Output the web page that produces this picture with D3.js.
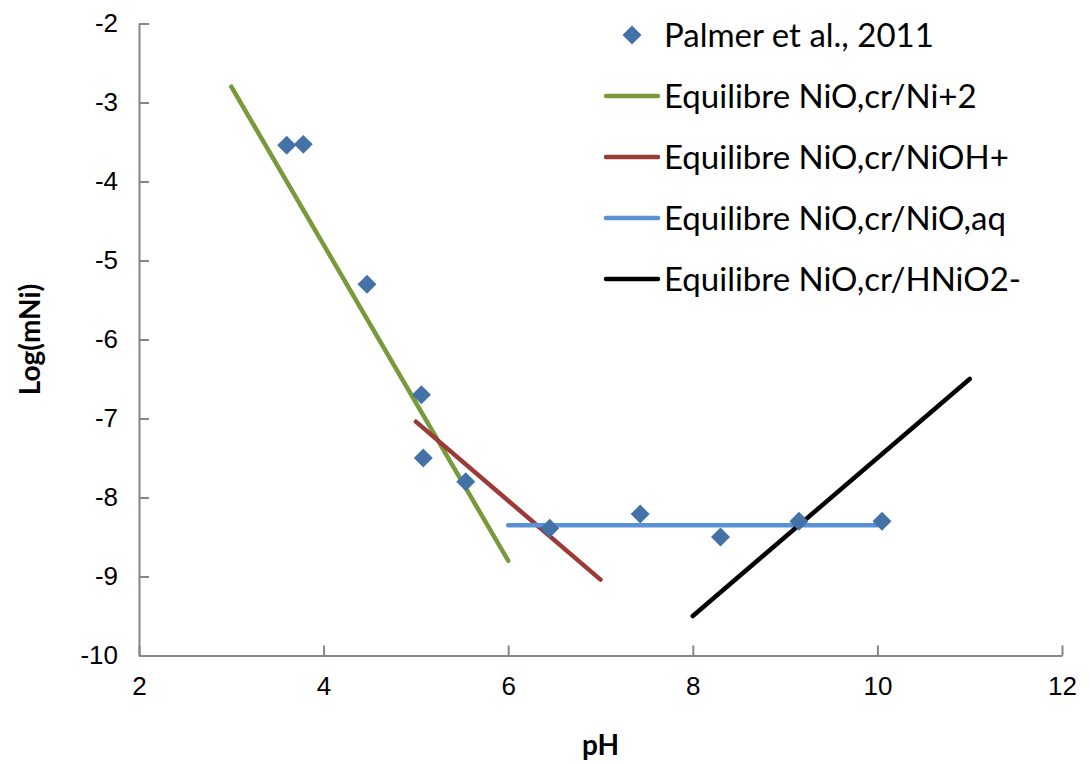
<!DOCTYPE html>
<html>
<head>
<meta charset="utf-8">
<script src="https://cdn.jsdelivr.net/npm/d3@7"></script>
<style>
  html, body { margin: 0; padding: 0; background: #fff; }
  svg { display: block; font-family: Lato, "Open Sans", sans-serif; }
</style>
</head>
<body>
<svg id="chart" width="1090" height="764"></svg>
<script>
// Measured solubility data (pH, log mNi)
const pointPH   = [3.60, 3.78, 4.47, 5.06, 5.08, 5.54, 6.45, 7.43, 8.30, 9.15, 10.05];
const pointLogM = [-3.54, -3.53, -5.30, -6.70, -7.50, -7.80, -8.39, -8.21, -8.50, -8.30, -8.30];

// Equilibrium lines: end points [pH, log mNi]
const lineNames = [
  "Equilibre NiO,cr/Ni+2",
  "Equilibre NiO,cr/NiOH+",
  "Equilibre NiO,cr/NiO,aq",
  "Equilibre NiO,cr/HNiO2-"
];
const lineColors = ["#789a3a", "#9b3a37", "#5891d6", "#000000"];
const lineStartPH   = [3, 5, 6, 8];
const lineStartLogM = [-2.8, -7.04, -8.35, -9.5];
const lineEndPH     = [6, 7, 10, 11];
const lineEndLogM   = [-8.8, -9.04, -8.35, -6.5];

const xTicks = [2, 4, 6, 8, 10, 12];
const yTicks = [-2, -3, -4, -5, -6, -7, -8, -9, -10];
const pointLabel = "Palmer et al., 2011";

const svg = d3.select("#chart");
const plotLeft = 139, plotRight = 1062, plotTop = 23.5, plotBottom = 655.5;

const x = d3.scaleLinear().domain([2, 12]).range([plotLeft, plotRight]);
const y = d3.scaleLinear().domain([-10, -2]).range([plotBottom, plotTop]);

const axisColor = "#868686";

// X axis (ticks pointing inward)
const gx = svg.append("g").attr("transform", `translate(0,${plotBottom})`)
  .call(d3.axisBottom(x).tickValues(xTicks).tickSizeInner(-10).tickSizeOuter(0).tickPadding(21));
gx.select(".domain").attr("stroke", axisColor).attr("stroke-width", 2);
gx.selectAll(".tick line").attr("stroke", axisColor).attr("stroke-width", 2);
gx.selectAll(".tick text").attr("font-size", 26).attr("fill", "#000");

// Y axis
const gy = svg.append("g").attr("transform", `translate(${plotLeft},0)`)
  .call(d3.axisLeft(y).tickValues(yTicks).tickSizeInner(-10).tickSizeOuter(0).tickPadding(21)
    .tickFormat(d => d3.format("d")(d).replace("−", "-")));
gy.select(".domain").attr("stroke", axisColor).attr("stroke-width", 2);
gy.selectAll(".tick line").attr("stroke", axisColor).attr("stroke-width", 2);
gy.selectAll(".tick text").attr("font-size", 26).attr("fill", "#000");

// Axis titles
svg.append("text").attr("x", (plotLeft + plotRight) / 2).attr("y", 755)
  .attr("text-anchor", "middle").attr("font-size", 28).attr("font-weight", "bold").text("pH");
svg.append("text").attr("transform", `translate(40,${(plotTop + plotBottom) / 2}) rotate(-90)`)
  .attr("text-anchor", "middle").attr("font-size", 28).attr("font-weight", "bold").text("Log(mNi)");

// Equilibrium lines
const lineData = lineNames.map((n, i) => ({
  name: n, color: lineColors[i],
  pts: [[lineStartPH[i], lineStartLogM[i]], [lineEndPH[i], lineEndLogM[i]]]
}));
const lineGen = d3.line().x(d => x(d[0])).y(d => y(d[1]));
svg.append("g").selectAll("path").data(lineData).join("path")
  .attr("d", d => lineGen(d.pts))
  .attr("fill", "none").attr("stroke", d => d.color)
  .attr("stroke-width", 4.5).attr("stroke-linecap", "round");

// Data points (diamonds)
const diamond = d3.symbol().type(d3.symbolSquare).size(180);
svg.append("g").selectAll("path").data(pointPH.map((p, i) => [p, pointLogM[i]])).join("path")
  .attr("d", diamond)
  .attr("transform", d => `translate(${x(d[0])},${y(d[1])}) rotate(45)`)
  .attr("fill", "#4472a8");

// Legend
const lg = svg.append("g");
lg.append("path").attr("d", diamond)
  .attr("transform", "translate(632,35) rotate(45)").attr("fill", "#4472a8");
lg.append("text").attr("x", 664).attr("y", 35).attr("dy", "0.35em")
  .attr("font-size", 33).text(pointLabel);
lineData.forEach((d, i) => {
  const ly = 96 + i * 61;
  lg.append("line").attr("x1", 606).attr("x2", 658).attr("y1", ly).attr("y2", ly)
    .attr("stroke", d.color).attr("stroke-width", 4.5).attr("stroke-linecap", "round");
  lg.append("text").attr("x", 664).attr("y", ly).attr("dy", "0.35em")
    .attr("font-size", 33).text(d.name);
});
</script>
</body>
</html>
